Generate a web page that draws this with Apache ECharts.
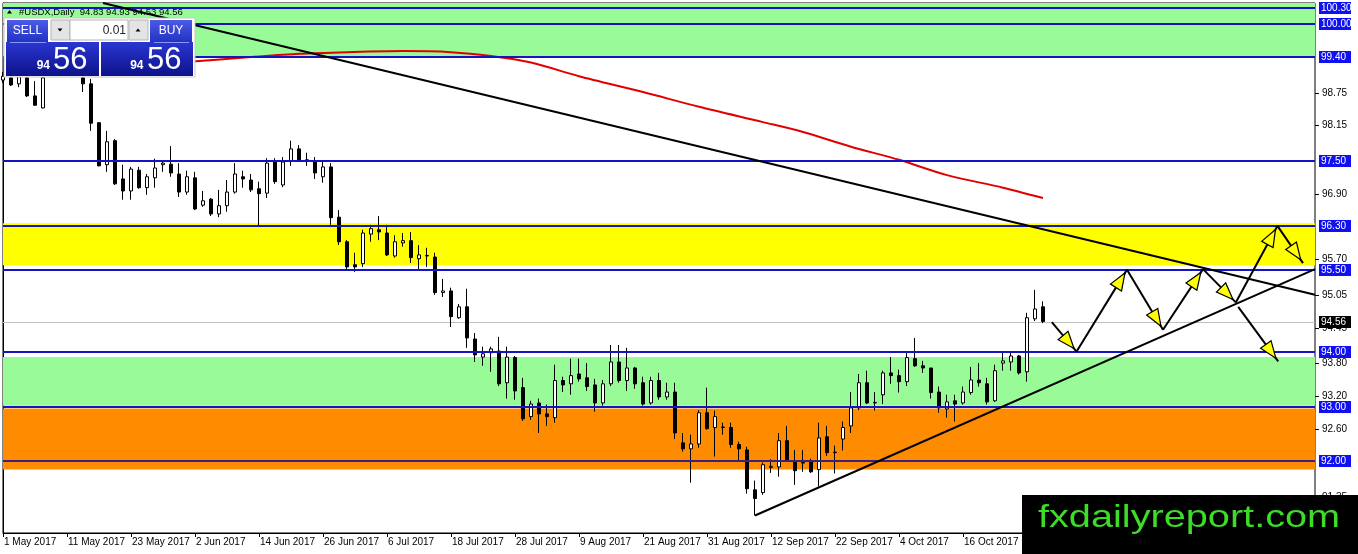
<!DOCTYPE html>
<html>
<head>
<meta charset="utf-8">
<script src="https://cdn.jsdelivr.net/npm/echarts@6/dist/echarts.min.js"></script>
<style>
  html, body { margin: 0; padding: 0; background: #fff; }
  #chart { width: 1358px; height: 554px; }
</style>
</head>
<body>
<div id="chart"></div>
<script>
// ---- data ----
const START_DATE = '2017-05-01';
const SLOT_COUNT = 165;      // bars plus the empty shift area on the right
const LABEL_EVERY = 8;

const open = [
  98.98, 99.02, 98.91, 99.02, 98.69, 98.47, 99.15, 99.45, 99.60, 99.55,
  99.02, 98.91, 98.20, 97.43, 97.87, 97.17, 96.95, 97.33, 97.01, 97.19,
  97.43, 97.44, 97.26, 96.93, 97.19, 96.69, 96.80, 96.53, 96.68, 96.93,
  97.21, 97.15, 96.99, 96.91, 97.48, 97.06, 97.50, 97.72, 97.52, 97.50,
  97.21, 97.39, 96.47, 96.02, 95.60, 95.62, 96.16, 96.24, 96.18, 95.76,
  96.00, 96.04, 95.71, 95.76, 95.74, 95.09, 95.12, 94.63, 94.83, 94.24,
  93.91, 93.99, 94.02, 93.44, 93.90, 93.35, 92.82, 93.07, 92.87, 92.80,
  93.48, 93.42, 93.60, 93.53, 93.40, 93.07, 93.42, 93.82, 93.48, 93.71,
  93.44, 93.07, 93.48, 93.18, 93.27, 92.34, 92.23, 92.32, 92.89, 92.62,
  92.62, 92.62, 92.31, 92.21, 91.48, 91.43, 91.89, 91.90, 92.38, 92.01,
  91.98, 91.99, 91.85, 92.45, 92.16, 92.41, 92.65, 92.98, 93.44, 93.07,
  93.22, 93.62, 93.57, 93.46, 93.88, 93.75, 93.71, 93.27, 92.96, 93.11,
  93.07, 93.26, 93.49, 93.42, 93.11, 93.80, 93.82, 93.93, 93.64, 94.61,
  94.83
];
const high = [
  99.13, 99.05, 99.05, 99.04, 98.96, 99.10, 99.55, 99.75, 99.80, 99.65,
  99.12, 99.00, 98.21, 98.05, 97.90, 97.43, 97.39, 97.39, 97.26, 97.54,
  97.48, 97.77, 97.46, 97.32, 97.30, 96.95, 96.82, 96.97, 97.15, 97.46,
  97.32, 97.26, 97.12, 97.55, 97.55, 97.57, 97.87, 97.79, 97.65, 97.57,
  97.48, 97.46, 96.60, 96.05, 95.82, 96.24, 96.33, 96.49, 96.33, 96.14,
  96.18, 96.20, 95.96, 95.91, 95.82, 95.34, 95.18, 94.88, 95.16, 94.35,
  94.10, 94.10, 94.28, 94.10, 93.93, 93.53, 93.11, 93.15, 93.04, 93.77,
  93.55, 93.88, 93.88, 93.80, 93.51, 93.49, 94.13, 94.13, 94.08, 93.73,
  93.55, 93.55, 93.62, 93.44, 93.44, 92.52, 92.49, 92.94, 93.35, 92.93,
  92.71, 92.71, 92.36, 92.27, 91.65, 91.98, 92.04, 92.52, 92.65, 92.21,
  92.21, 92.05, 92.71, 92.65, 92.29, 92.73, 93.27, 93.60, 93.66, 93.27,
  93.66, 93.91, 93.68, 93.99, 94.26, 93.84, 93.71, 93.37, 93.22, 93.22,
  93.37, 93.73, 93.80, 93.53, 93.77, 94.02, 94.00, 93.95, 94.72, 95.14,
  94.93
];
const low = [
  98.93, 98.87, 98.85, 98.67, 98.51, 98.46, 99.12, 99.35, 99.40, 99.12,
  98.76, 98.05, 97.40, 97.30, 97.06, 96.79, 96.79, 96.99, 96.88, 97.01,
  97.30, 97.21, 96.84, 96.88, 96.60, 96.66, 96.49, 96.47, 96.57, 96.90,
  97.01, 96.93, 96.29, 96.82, 97.08, 97.02, 97.41, 97.48, 97.41, 97.17,
  97.10, 96.33, 95.96, 95.51, 95.47, 95.56, 96.02, 96.05, 95.76, 95.73,
  95.93, 95.63, 95.51, 95.56, 95.05, 95.01, 94.46, 94.61, 94.08, 93.82,
  93.75, 93.64, 93.38, 93.15, 93.13, 92.74, 92.76, 92.52, 92.65, 92.71,
  93.27, 93.22, 93.46, 93.29, 92.91, 93.02, 93.38, 93.44, 93.29, 93.33,
  93.02, 93.04, 93.13, 93.13, 92.41, 92.18, 91.61, 92.25, 92.58, 92.09,
  92.49, 92.25, 91.99, 91.41, 91.01, 91.39, 91.79, 91.72, 92.01, 91.57,
  91.81, 91.79, 91.54, 92.10, 91.78, 92.20, 92.52, 92.94, 93.05, 92.93,
  93.05, 93.42, 93.26, 93.38, 93.73, 93.62, 93.15, 92.89, 92.80, 92.73,
  93.04, 93.22, 93.37, 93.04, 93.09, 93.66, 93.66, 93.59, 93.46, 94.57,
  94.53
];
const close = [
  99.05, 98.89, 99.04, 98.69, 98.52, 99.02, 99.45, 99.60, 99.55, 99.20,
  98.91, 98.19, 97.41, 97.85, 97.08, 96.95, 97.35, 97.01, 97.21, 97.37,
  97.46, 97.28, 96.93, 97.21, 96.62, 96.77, 96.53, 96.68, 96.93, 97.26,
  97.17, 96.97, 96.90, 97.46, 97.12, 97.48, 97.72, 97.50, 97.51, 97.28,
  97.39, 96.46, 96.02, 95.56, 95.56, 96.18, 96.26, 96.20, 95.78, 96.02,
  96.04, 95.73, 95.78, 95.77, 95.09, 95.12, 94.65, 94.83, 94.26, 93.95,
  93.97, 94.06, 93.42, 93.91, 93.29, 92.78, 93.05, 92.87, 92.82, 93.48,
  93.40, 93.57, 93.51, 93.37, 93.07, 93.42, 93.82, 93.48, 93.71, 93.42,
  93.05, 93.48, 93.18, 93.27, 92.52, 92.23, 92.32, 92.89, 92.60, 92.82,
  92.63, 92.31, 92.23, 91.50, 91.32, 91.94, 91.91, 92.38, 92.03, 91.83,
  91.97, 91.81, 92.43, 92.16, 92.17, 92.62, 92.98, 93.44, 93.07, 93.08,
  93.62, 93.57, 93.46, 93.90, 93.75, 93.71, 93.26, 92.98, 93.09, 93.05,
  93.27, 93.49, 93.44, 93.09, 93.66, 93.84, 93.93, 93.62, 94.63, 94.79,
  94.56
];

// red moving average, sampled at bar indices
const maIndex = [22, 31, 37, 43, 50, 56, 61, 66, 72, 80, 87, 95, 100, 106, 112, 118, 125, 130];
const maValue = [99.30, 99.40, 99.46, 99.49, 99.51, 99.49, 99.42, 99.30, 99.05, 98.76, 98.49, 98.21, 98.03, 97.76, 97.52, 97.24, 97.01, 96.82];

const levels = [100.30, 100.00, 99.40, 97.50, 96.30, 95.50, 94.00, 93.00, 92.00];
const bidPrice = 94.56;
const scaleTicks = [98.75, 98.15, 96.90, 95.70, 95.05, 94.45, 93.80, 93.20, 92.60, 91.35];
const zoneLow = [99.40, 95.59, 93.02, 91.85];
const zoneHigh = [100.45, 96.36, 93.91, 92.97];

// trend lines: [barIndex, price]
const trendFrom = [[12.5, 100.39], [94, 91.01]];
const trendTo = [[164, 95.05], [164, 95.52]];

// projected path arrows: [barIndex, price]
const arrowFrom = [[131.1, 94.55], [134.2, 94.01], [140.5, 95.51], [145.0, 94.41], [150.0, 95.52], [154.1, 94.91], [159.3, 96.31], [154.4, 94.83]];
const arrowTo = [[134.2, 94.01], [140.5, 95.51], [145.0, 94.41], [150.0, 95.52], [154.1, 94.91], [159.3, 96.31], [162.5, 95.63], [159.4, 93.83]];

const titleText = '#USDX,Daily  94.83 94.93 94.53 94.56';

// ---- styling ----
const FONT = '"Liberation Sans", Arial, sans-serif';
const ZONE_COLORS = ['#98fb98', '#ffff00', '#98fb98', '#ff8c00'];
const LEVEL_BLUE = '#1414c0';
const LEVEL_PURPLE = '#3a2080';
const BOX_BLUE = '#1010f0';

function weekdayLabels(start, n) {
  const months = ['Jan', 'Feb', 'Mar', 'Apr', 'May', 'Jun', 'Jul', 'Aug', 'Sep', 'Oct', 'Nov', 'Dec'];
  const d = new Date(start + 'T00:00:00Z');
  const out = [];
  while (out.length < n) {
    const wd = d.getUTCDay();
    if (wd !== 0 && wd !== 6) out.push(d.getUTCDate() + ' ' + months[d.getUTCMonth()] + ' ' + d.getUTCFullYear());
    d.setUTCDate(d.getUTCDate() + 1);
  }
  return out;
}

const categories = weekdayLabels(START_DATE, SLOT_COUNT);
const candles = open.map((o, i) => [o, close[i], low[i], high[i]]);
const showEvery = (idx) => idx % LABEL_EVERY === 0;

function zoneItem(params, api) {
  const cs = params.coordSys;
  const yTop = api.coord([0, api.value(1)])[1];
  const yBot = api.coord([0, api.value(0)])[1];
  const shape = echarts.graphic.clipRectByRect(
    { x: cs.x, y: yTop, width: cs.width, height: yBot - yTop },
    { x: cs.x, y: cs.y, width: cs.width, height: cs.height }
  );
  if (!shape) return null;
  return { type: 'rect', shape, style: { fill: ZONE_COLORS[params.dataIndex] } };
}

function priceBox(x, y, v, fill) {
  return [
    { type: 'rect', shape: { x: x + 4, y: y - 6, width: 32, height: 12 }, style: { fill } },
    { type: 'text', x: x + 6, y: y, style: { text: v.toFixed(2), fill: '#fff', font: '10px ' + FONT, verticalAlign: 'middle', align: 'left' } }
  ];
}

function levelItem(params, api) {
  const cs = params.coordSys;
  const v = api.value(1);
  const y = Math.round(api.coord([0, v])[1]);
  const right = cs.x + cs.width;
  return {
    type: 'group',
    children: [
      { type: 'line', shape: { x1: cs.x, y1: y, x2: right, y2: y }, style: { stroke: v === 92 ? LEVEL_PURPLE : LEVEL_BLUE, lineWidth: 2 } }
    ].concat(priceBox(right, y, v, BOX_BLUE))
  };
}

function bidItem(params, api) {
  const cs = params.coordSys;
  const v = api.value(1);
  const y = Math.round(api.coord([0, v])[1]) + 0.5;
  const right = cs.x + cs.width;
  return { type: 'line', shape: { x1: cs.x, y1: y, x2: right, y2: y }, style: { stroke: '#c0c0c0', lineWidth: 1 } };
}

function bidBoxItem(params, api) {
  const cs = params.coordSys;
  const v = api.value(1);
  const y = Math.round(api.coord([0, v])[1]);
  return { type: 'group', children: priceBox(cs.x + cs.width, y, v, '#000') };
}

function tickItem(params, api) {
  const cs = params.coordSys;
  const v = api.value(1);
  const y = Math.round(api.coord([0, v])[1]) + 0.5;
  const x = cs.x + cs.width;
  return {
    type: 'group',
    children: [
      { type: 'line', shape: { x1: x, y1: y, x2: x + 4, y2: y }, style: { stroke: '#000', lineWidth: 1 } },
      { type: 'text', x: x + 7, y: y, style: { text: v.toFixed(2), fill: '#000', font: '10px ' + FONT, verticalAlign: 'middle', align: 'left' } }
    ]
  };
}

function arrowItem(params, api) {
  const a = api.coord([api.value(0), api.value(1)]);
  const b = api.coord([api.value(2), api.value(3)]);
  const dx = b[0] - a[0];
  const dy = b[1] - a[1];
  const len = Math.hypot(dx, dy) || 1;
  const ux = dx / len, uy = dy / len;
  const nx = -uy, ny = ux;
  const tx = b[0] - ux * 4, ty = b[1] - uy * 4;
  const bx = tx - ux * 17, by = ty - uy * 17;
  return {
    type: 'group',
    children: [
      { type: 'line', shape: { x1: a[0], y1: a[1], x2: b[0], y2: b[1] }, style: { stroke: '#000', lineWidth: 2 } },
      {
        type: 'polygon',
        shape: { points: [[tx, ty], [bx + nx * 6.5, by + ny * 6.5], [bx - nx * 6.5, by - ny * 6.5]] },
        style: { fill: '#ffff00', stroke: '#000', lineWidth: 1.2 }
      }
    ]
  };
}

const btnGrad = () => new echarts.graphic.LinearGradient(0, 0, 0, 1, [{ offset: 0, color: '#4b5be6' }, { offset: 1, color: '#2232c2' }]);
const priceGrad = () => new echarts.graphic.LinearGradient(0, 0, 0, 1, [{ offset: 0, color: '#2a36d2' }, { offset: 1, color: '#0c128a' }]);

const panel = [
  { type: 'text', x: 19, y: 12, z: 2, style: { text: titleText, fill: '#000', font: '9.5px ' + FONT, verticalAlign: 'middle' } },
  { type: 'polygon', z: 2, shape: { points: [[7, 13.5], [12, 13.5], [9.5, 10]] }, style: { fill: '#000' } },

  { type: 'rect', z: 100, shape: { x: 4, y: 18, width: 191, height: 59 }, style: { fill: '#fff', stroke: '#c8c8c8' } },
  { type: 'rect', z: 101, shape: { x: 7, y: 20, width: 41, height: 22 }, style: { fill: btnGrad() } },
  { type: 'text', z: 102, x: 27.5, y: 30.5, style: { text: 'SELL', fill: '#fff', font: '12px ' + FONT, align: 'center', verticalAlign: 'middle' } },
  { type: 'rect', z: 101, shape: { x: 51, y: 20, width: 19, height: 20 }, style: { fill: '#e4e4e4', stroke: '#b4b4b4' } },
  { type: 'polygon', z: 102, shape: { points: [[57.5, 28.5], [62.5, 28.5], [60, 31.5]] }, style: { fill: '#000' } },
  { type: 'rect', z: 101, shape: { x: 70, y: 20, width: 58, height: 20 }, style: { fill: '#fff', stroke: '#b4b4b4' } },
  { type: 'text', z: 102, x: 126, y: 30.5, style: { text: '0.01', fill: '#222', font: '12px ' + FONT, align: 'right', verticalAlign: 'middle' } },
  { type: 'rect', z: 101, shape: { x: 129, y: 20, width: 19, height: 20 }, style: { fill: '#e4e4e4', stroke: '#b4b4b4' } },
  { type: 'polygon', z: 102, shape: { points: [[135.5, 31.5], [140.5, 31.5], [138, 28.5]] }, style: { fill: '#000' } },
  { type: 'rect', z: 101, shape: { x: 150, y: 20, width: 42, height: 22 }, style: { fill: btnGrad() } },
  { type: 'text', z: 102, x: 171, y: 30.5, style: { text: 'BUY', fill: '#fff', font: '12px ' + FONT, align: 'center', verticalAlign: 'middle' } },

  { type: 'rect', z: 101, shape: { x: 6, y: 42, width: 93, height: 34 }, style: { fill: priceGrad() } },
  { type: 'line', z: 102, shape: { x1: 10, y1: 42.5, x2: 46, y2: 42.5 }, style: { stroke: '#8a96ff', lineWidth: 1 } },
  { type: 'text', z: 102, x: 50, y: 66, style: { text: '94', fill: '#fff', font: 'bold 12px ' + FONT, align: 'right', verticalAlign: 'middle' } },
  { type: 'text', z: 102, x: 53, y: 60.5, style: { text: '56', fill: '#fff', font: '31px ' + FONT, align: 'left', verticalAlign: 'middle' } },
  { type: 'rect', z: 101, shape: { x: 101, y: 42, width: 92, height: 34 }, style: { fill: priceGrad() } },
  { type: 'line', z: 102, shape: { x1: 154, y1: 42.5, x2: 189, y2: 42.5 }, style: { stroke: '#8a96ff', lineWidth: 1 } },
  { type: 'text', z: 102, x: 143.5, y: 66, style: { text: '94', fill: '#fff', font: 'bold 12px ' + FONT, align: 'right', verticalAlign: 'middle' } },
  { type: 'text', z: 102, x: 147, y: 60.5, style: { text: '56', fill: '#fff', font: '31px ' + FONT, align: 'left', verticalAlign: 'middle' } },

  { type: 'rect', z: 110, shape: { x: 1022, y: 495, width: 336, height: 59 }, style: { fill: '#000' } },
  { type: 'text', z: 111, x: 1038, y: 518, scaleX: 1.24, style: { text: 'fxdailyreport.com', fill: '#3cdc28', font: '32px ' + FONT, align: 'left', verticalAlign: 'middle' } }
];

const option = {
  backgroundColor: '#fff',
  animation: false,
  textStyle: { fontFamily: FONT },
  grid: {
    left: 3, right: 43, top: 3, bottom: 21,
    show: true, backgroundColor: '#fff', borderColor: '#000', borderWidth: 1,
    outerBoundsMode: 'none'
  },
  xAxis: [
    {
      type: 'category',
      data: categories,
      boundaryGap: false,
      axisLine: { show: true, lineStyle: { color: '#000', width: 1 } },
      axisTick: { show: true, interval: showEvery, length: 4, lineStyle: { color: '#000' } },
      axisLabel: {
        show: true, interval: showEvery, align: 'left', margin: 4,
        color: '#000', fontSize: 10, fontFamily: FONT, padding: [0, 0, 0, 1]
      },
      splitLine: { show: false }
    },
    { type: 'value', min: 0, max: SLOT_COUNT - 1, show: false, splitLine: { show: false } }
  ],
  yAxis: {
    type: 'value',
    position: 'right',
    min: 90.69,
    max: 100.39,
    scale: true,
    axisLine: { show: true, lineStyle: { color: '#000', width: 1 } },
    axisTick: { show: false },
    axisLabel: { show: false },
    splitLine: { show: false }
  },
  graphic: { elements: panel },
  series: [
    {
      type: 'custom', name: 'zones', xAxisIndex: 1, z: 1, silent: true,
      data: zoneLow.map((v, i) => [v, zoneHigh[i]]),
      encode: { x: -1, y: [0, 1] },
      renderItem: zoneItem
    },
    {
      type: 'custom', name: 'bid', xAxisIndex: 1, z: 2, silent: true,
      data: [[0, bidPrice]], renderItem: bidItem
    },
    {
      type: 'candlestick', name: 'USDX', xAxisIndex: 0, yAxisIndex: 0, z: 3,
      data: candles,
      barWidth: 4,
      itemStyle: { color: '#fff', color0: '#000', borderColor: '#000', borderColor0: '#000', borderWidth: 1 }
    },
    {
      type: 'line', name: 'MA', xAxisIndex: 1, z: 4, silent: true,
      data: maIndex.map((x, i) => [x, maValue[i]]),
      smooth: 0.3, showSymbol: false, symbol: 'none',
      lineStyle: { color: '#e00000', width: 2 }
    },
    {
      type: 'custom', name: 'levels', xAxisIndex: 1, z: 7, silent: true,
      data: levels.map((v) => [0, v]), renderItem: levelItem
    },
    ...trendFrom.map((p, i) => ({
      type: 'line', name: 'trend' + i, xAxisIndex: 1, z: 8, silent: true,
      data: [p, trendTo[i]], showSymbol: false, symbol: 'none',
      lineStyle: { color: '#000', width: 2 }
    })),
    {
      type: 'custom', name: 'arrows', xAxisIndex: 1, z: 9, silent: true,
      data: arrowFrom.map((p, i) => [p[0], p[1], arrowTo[i][0], arrowTo[i][1]]),
      renderItem: arrowItem
    },
    {
      type: 'custom', name: 'ticks', xAxisIndex: 1, z: 6, silent: true,
      data: scaleTicks.map((v) => [0, v]), renderItem: tickItem
    },
    {
      type: 'custom', name: 'bidBox', xAxisIndex: 1, z: 10, silent: true,
      data: [[0, bidPrice]], renderItem: bidBoxItem
    }
  ]
};

const chart = echarts.init(document.getElementById('chart'), null, { renderer: 'canvas' });
chart.setOption(option);
</script>
</body>
</html>
